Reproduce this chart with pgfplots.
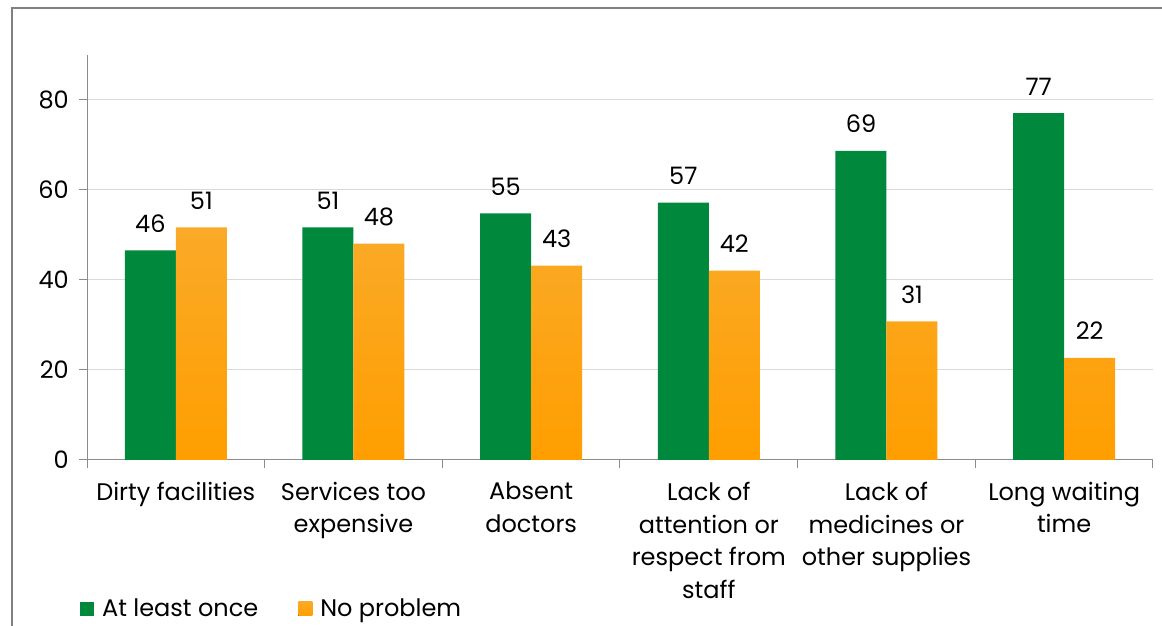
\documentclass[border=0pt]{standalone}
\usepackage{fontspec}
\setmainfont{Poppins}
\usepackage{pgfplots}
\pgfplotsset{compat=1.18}
\definecolor{cgreen}{RGB}{0,137,61}
\definecolor{corange}{RGB}{255,158,0}
\definecolor{corangetop}{RGB}{250,170,40}
\definecolor{gridc}{RGB}{217,217,217}
\definecolor{axisgray}{RGB}{140,140,140}
\definecolor{framec}{RGB}{128,128,128}
\begin{document}
\begin{tikzpicture}
\useasboundingbox (0,0) rectangle (1162pt,626pt);
\draw[framec, line width=1.5pt] (12pt,-20pt) -- (12pt,618pt) -- (1180pt,618pt);
\begin{axis}[
  at={(87pt,166pt)}, anchor=south west,
  scale only axis, width=1066pt, height=405pt,
  xmin=-0.5, xmax=5.5, ymin=0, ymax=90,
  ybar=0pt, bar width=51pt,
  axis x line*=bottom, axis y line*=left,
  axis line style={-, axisgray, line width=1pt},
  ytick={0,20,...,80},
  ymajorgrids, grid style={gridc, line width=1pt},
  xtick={0,...,5},
  xticklabels={Dirty facilities, Services too\\expensive, Absent\\doctors, Lack of\\attention or\\respect from\\staff, Lack of\\medicines or\\other supplies, Long waiting\\time},
  major x tick style={draw=none},
  minor xtick={-0.5,0.5,...,5.5},
  tick align=outside,
  major tick length=8pt, minor tick length=8pt,
  tick style={axisgray, line width=1pt},
  minor tick style={axisgray, line width=1pt},
  /pgf/number format/assume math mode=true,
  x tick label style={font=\fontsize{24}{32.5}\selectfont, align=center, anchor=north, inner sep=0pt, yshift=-14pt},
  y tick label style={font=\fontsize{24}{28}\selectfont, anchor=east, inner sep=0pt, xshift=-10pt},
  nodes near coords,
  point meta=explicit symbolic,
  every node near coord/.append style={font=\fontsize{24}{28}\selectfont, anchor=base, inner sep=0pt, yshift=18pt, black},
  legend style={at={(-0.0066,-0.3675)}, anchor=west, draw=none, fill=none, legend columns=2,
    font=\fontsize{24}{28}\selectfont, inner sep=0pt,
    /tikz/every odd column/.append style={column sep=6pt},
    /tikz/every even column/.append style={column sep=38pt}},
  legend cell align=left,
  legend image code/.code={\fill[#1] (0pt,-7pt) rectangle (14pt,7pt);},
]
\addplot[fill=cgreen, draw=none] coordinates {(0,46.6) [46] (1,51.7) [51] (2,54.8) [55] (3,57.2) [57] (4,68.7) [69] (5,77.1) [77]};
\addplot[top color=corangetop, bottom color=corange, draw=none] coordinates {(0,51.7) [51] (1,48.1) [48] (2,43.2) [43] (3,42.1) [42] (4,30.8) [31] (5,22.7) [22]};
\legend{At least once, No problem}
\end{axis}
\end{tikzpicture}
\end{document}
